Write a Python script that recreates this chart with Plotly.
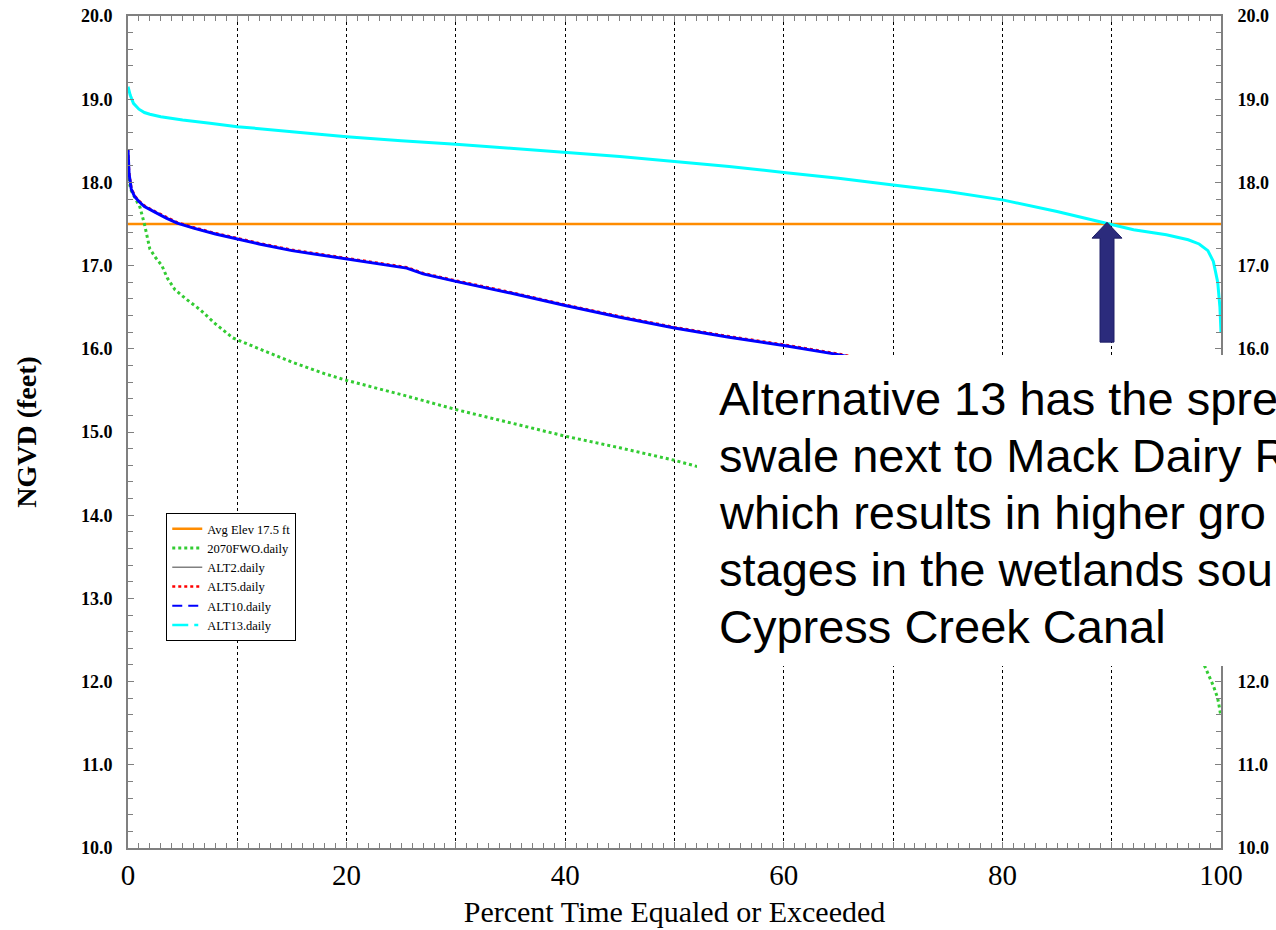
import plotly.graph_objects as go

# ---------------- data ----------------
AVG_ELEV = 17.5
AVG_X = [0, 100]

ALT13_X = [0, 0.2, 0.5, 1, 1.5, 2, 3, 5, 7.5, 10, 15, 20, 25, 30, 35, 40, 45, 50, 55, 60,
           65, 70, 75, 80, 85, 89.5, 92, 95, 97, 98, 98.8, 99.3, 99.7, 99.9, 100]
ALT13_Y = [19.15, 19.05, 18.95, 18.88, 18.84, 18.82, 18.79, 18.75, 18.71, 18.67, 18.61, 18.55,
           18.50, 18.46, 18.41, 18.36, 18.31, 18.25, 18.19, 18.12, 18.05, 17.97, 17.89, 17.79,
           17.65, 17.51, 17.43, 17.37, 17.31, 17.26, 17.18, 17.05, 16.80, 16.50, 16.20]

ALT_X = [0, 0.1, 0.3, 0.6, 1, 1.5, 2.5, 3.5, 4.5, 6, 8, 10, 12, 15, 18, 20, 23, 25.5, 27, 30,
         35, 40, 45, 50, 55, 60, 65, 70, 75, 80, 85, 90, 95, 98, 100]
ALT10_Y = [18.40, 18.10, 17.92, 17.83, 17.77, 17.71, 17.64, 17.57, 17.51, 17.45, 17.38, 17.32,
           17.26, 17.18, 17.12, 17.08, 17.02, 16.97, 16.90, 16.81, 16.67, 16.52, 16.38, 16.25,
           16.14, 16.04, 15.93, 15.80, 15.66, 15.52, 15.36, 15.18, 14.95, 14.70, 14.20]
ALT5_Y = [18.40, 18.12, 17.94, 17.84, 17.78, 17.72, 17.65, 17.58, 17.52, 17.46, 17.39, 17.33,
          17.27, 17.19, 17.13, 17.09, 17.03, 16.98, 16.91, 16.82, 16.68, 16.53, 16.39, 16.26,
          16.15, 16.05, 15.94, 15.81, 15.67, 15.53, 15.37, 15.19, 14.96, 14.71, 14.21]
ALT2_Y = [18.40, 18.10, 17.92, 17.83, 17.77, 17.71, 17.64, 17.57, 17.51, 17.45, 17.38, 17.32,
          17.26, 17.18, 17.12, 17.08, 17.02, 16.97, 16.90, 16.81, 16.67, 16.52, 16.38, 16.25,
          16.14, 16.04, 15.93, 15.80, 15.66, 15.52, 15.36, 15.18, 14.95, 14.70, 14.20]

FWO_X = [0, 0.3, 0.7, 1.1, 1.5, 2.0, 2.5, 3.1, 3.6, 4.3, 5.3, 6.6, 8, 9.6, 12, 15, 18, 20, 25,
         30, 35, 40, 45, 50, 52.5, 60, 70, 80, 90, 95, 97, 98.3, 98.8, 99.3, 99.7, 100]
FWO_Y = [18.05, 17.90, 17.80, 17.70, 17.50, 17.20, 17.10, 17.00, 16.85, 16.71, 16.60, 16.47,
         16.30, 16.13, 16.00, 15.84, 15.70, 15.62, 15.45, 15.27, 15.11, 14.95, 14.81, 14.66,
         14.57, 14.35, 14.02, 13.62, 13.10, 12.75, 12.50, 12.25, 12.10, 11.95, 11.80, 11.58]

X_TICKS = [0, 10, 20, 30, 40, 50, 60, 70, 80, 90, 100]
X_TICKTEXT = ["0", "", "20", "", "40", "", "60", "", "80", "", "100"]
Y_RANGE = [10, 20]
Y_TICKS = [10, 11, 12, 13, 14, 15, 16, 17, 18, 19, 20]
Y_TICKTEXT = [f"{v:.1f}" for v in Y_TICKS]
# right-hand labels hidden behind the text box in the original
Y2_TICKTEXT = ["" if 13 <= v <= 15 else f"{v:.1f}" for v in Y_TICKS]

# visible part of the slide's text box (clipped at the slide edge)
NOTE_LINES = ["Alternative 13 has the spre",
              "swale next to Mack Dairy R",
              "which results in higher gro",
              "stages in the wetlands sou",
              "Cypress Creek Canal"]

SERIF = "Liberation Serif, Times New Roman, serif"
SANS = "Liberation Sans, Arial, sans-serif"

# ---------------- figure ----------------
fig = go.Figure()

fig.add_trace(go.Scatter(x=AVG_X, y=[AVG_ELEV] * len(AVG_X), mode="lines",
                         name="Avg Elev 17.5 ft", line=dict(color="#FF8C00", width=2.5),
                         legendrank=1))
fig.add_trace(go.Scatter(x=FWO_X, y=FWO_Y, mode="lines", name="2070FWO.daily",
                         line=dict(color="#33CC33", width=3, dash="dot"), legendrank=2))
fig.add_trace(go.Scatter(x=ALT_X, y=ALT2_Y, mode="lines", name="ALT2.daily",
                         line=dict(color="#808080", width=1.5), legendrank=3))
fig.add_trace(go.Scatter(x=ALT_X, y=ALT5_Y, mode="lines", name="ALT5.daily",
                         line=dict(color="#FF0000", width=2.5, dash="dot"), legendrank=4))
fig.add_trace(go.Scatter(x=ALT_X, y=ALT10_Y, mode="lines", name="ALT10.daily",
                         line=dict(color="#0000FF", width=3), showlegend=False))
fig.add_trace(go.Scatter(x=ALT13_X, y=ALT13_Y, mode="lines", name="ALT13.daily",
                         line=dict(color="#00FFFF", width=3), showlegend=False))
# legend samples with the original line styles
fig.add_trace(go.Scatter(x=[None], y=[None], mode="lines", name="ALT10.daily",
                         line=dict(color="#0000FF", width=2, dash="10px,6px"), legendrank=5))
fig.add_trace(go.Scatter(x=[None], y=[None], mode="lines", name="ALT13.daily",
                         line=dict(color="#00FFFF", width=2.5, dash="16px,6px,4px,6px"),
                         legendrank=6))
# right axis companion
fig.add_trace(go.Scatter(x=[None], y=[None], yaxis="y2", showlegend=False, hoverinfo="skip"))

axis_common = dict(showline=True, linecolor="#808080", linewidth=2, ticks="inside",
                   tickcolor="#808080", ticklen=6, tickwidth=1, zeroline=False,
                   automargin=False)

fig.update_layout(
    width=1276, height=930,
    margin=dict(l=128, r=55, t=16, b=82),
    paper_bgcolor="white", plot_bgcolor="white",
    showlegend=True,
    legend=dict(x=0.035, y=0.4026, xanchor="left", yanchor="top",
                bgcolor="white", bordercolor="black", borderwidth=1,
                font=dict(family=SERIF, size=12.5, color="black"),
                tracegroupgap=0, itemwidth=30),
    xaxis=dict(range=[0, 100], tickvals=X_TICKS, ticktext=X_TICKTEXT,
               showgrid=True, gridcolor="#000000", griddash="dot", gridwidth=1,
               mirror="ticks",
               minor=dict(dtick=1, ticks="inside", ticklen=5, tickcolor="#808080", showgrid=False),
               tickfont=dict(family=SERIF, size=29, color="black"),
               ticklabelstandoff=0,
               title=dict(text="Percent Time Equaled or Exceeded",
                          font=dict(family=SERIF, size=30, color="black"), standoff=11),
               **axis_common),
    yaxis=dict(range=Y_RANGE, tickvals=Y_TICKS, ticktext=Y_TICKTEXT, showgrid=False,
               minor=dict(dtick=0.2, ticks="inside", ticklen=5, tickcolor="#808080"),
               tickfont=dict(family=SERIF, size=18, color="black", weight="bold"),
               ticklabelstandoff=10,
               title=dict(text="<b>NGVD (feet)</b>",
                          font=dict(family=SERIF, size=28, color="black"), standoff=36),
               **axis_common),
    yaxis2=dict(range=Y_RANGE, tickvals=Y_TICKS, ticktext=Y2_TICKTEXT, showgrid=False,
                overlaying="y", side="right", anchor="x",
                minor=dict(dtick=0.2, ticks="inside", ticklen=5, tickcolor="#808080"),
                tickfont=dict(family=SERIF, size=18, color="black", weight="bold"),
                ticklabelstandoff=11,
                **axis_common),
)

# white text box overlay
fig.add_shape(type="rect", xref="paper", yref="paper",
              x0=0.5206, x1=1.2, y0=0.2187, y1=0.5925,
              fillcolor="white", line=dict(width=0), layer="above")

# text lines, placed one by one (slide line spacing is tighter than the default)
LINE_TOP_PX, LINE_STEP_PX = 398, 57
for i, line in enumerate(NOTE_LINES):
    ypx = LINE_TOP_PX + i * LINE_STEP_PX
    fig.add_annotation(xref="paper", yref="paper", x=(717 - 128) / 1093,
                       y=(848 - ypx) / 832, xanchor="left", yanchor="middle",
                       align="left", showarrow=False, text=line,
                       font=dict(family=SANS, size=47, color="black"))

# block arrow pointing at the crossing of ALT13 with the average elevation
ax, tip_y, head_y, bot_y, hw, sw = 89.57, 17.52, 17.33, 16.08, 1.37, 0.64
path = (f"M {ax},{tip_y} L {ax + hw},{head_y} L {ax + sw},{head_y} L {ax + sw},{bot_y} "
        f"L {ax - sw},{bot_y} L {ax - sw},{head_y} L {ax - hw},{head_y} Z")
fig.add_shape(type="path", xref="x", yref="y", path=path,
              fillcolor="#2B2B7C", line=dict(color="#1F1F66", width=1), layer="above")

fig.write_html("out.html")
